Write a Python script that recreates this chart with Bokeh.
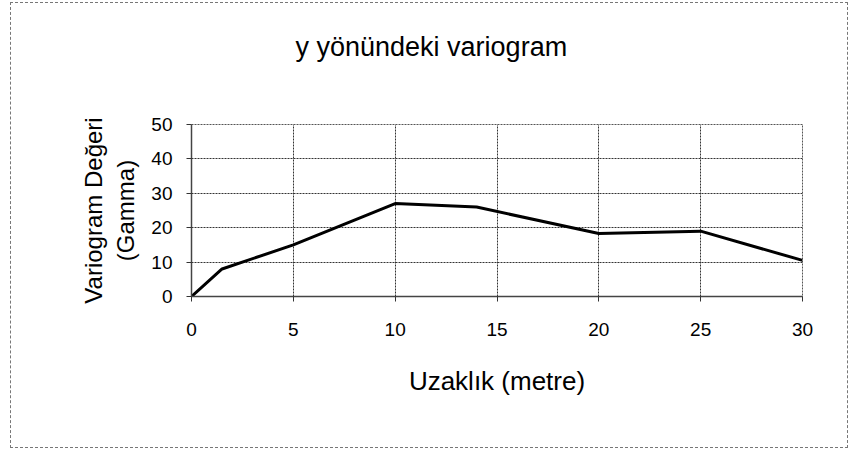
from bokeh.plotting import figure
from bokeh.models import Range1d, FixedTicker, Title
from bokeh.embed import file_html
from bokeh.resources import INLINE

# Data
distance = [0, 1.5, 5, 10, 14, 20, 25, 30]
gamma = [0, 8, 15, 27, 26, 18.3, 19, 10.5]
x_ticks = [0, 5, 10, 15, 20, 25, 30]
y_ticks = [0, 10, 20, 30, 40, 50]

title_text = "y yönündeki variogram"
x_title = "Uzaklık (metre)"
y_title = "Variogram Değeri\n(Gamma)"

FONT = "Liberation Sans"

p = figure(width=838, height=446, output_backend="svg", toolbar_location=None,
           x_range=Range1d(0, 30), y_range=Range1d(0, 50),
           min_border_left=180, min_border_right=47,
           min_border_top=121, min_border_bottom=153)
p.styles = {"border": "1px dashed #777", "margin-left": "10px", "margin-top": "2px"}

p.title_location = None
# spacer between the frame and the title
p.add_layout(Title(text=" ", text_font_size="1px", standoff=60), "above")
# the chart title, centred over the whole chart area as in the reference
p.add_layout(Title(text=title_text, align="left", offset=104, standoff=0,
                   text_font=FONT, text_font_size="27px",
                   text_font_style="normal", text_color="black"), "above")

p.line(distance, gamma, line_color="black", line_width=3)

for ax, ticks in ((p.xaxis, x_ticks), (p.yaxis, y_ticks)):
    ax.ticker = FixedTicker(ticks=ticks)
    ax.major_label_text_font = FONT
    ax.major_label_text_font_size = "19px"
    ax.major_label_text_color = "black"
    ax.axis_label_text_font = FONT
    ax.axis_label_text_font_style = "normal"
    ax.axis_label_text_color = "black"
    ax.minor_tick_line_color = None
    ax.major_tick_in = 0
    ax.major_tick_out = 5
    ax.major_tick_line_color = "#333333"
    ax.axis_line_color = "#444444"
    ax.axis_line_width = 1.5

p.xaxis.axis_label = x_title
p.xaxis.axis_label_text_font_size = "26px"
p.xaxis.major_label_standoff = 21
p.xaxis.axis_label_standoff = 27

p.yaxis.axis_label = y_title
p.yaxis.axis_label_text_font_size = "24px"
p.yaxis.major_label_standoff = 14
p.yaxis.axis_label_standoff = 9

p.xgrid.ticker = FixedTicker(ticks=x_ticks)
p.ygrid.ticker = FixedTicker(ticks=y_ticks)
for g in (p.xgrid, p.ygrid):
    g.grid_line_color = "#333333"
    g.grid_line_dash = "2 1"
    g.grid_line_width = 1

p.outline_line_color = "#555555"
p.outline_line_dash = "2 1"
p.background_fill_color = "white"
p.border_fill_color = "white"

open("out.html", "w").write(file_html(p, INLINE))
